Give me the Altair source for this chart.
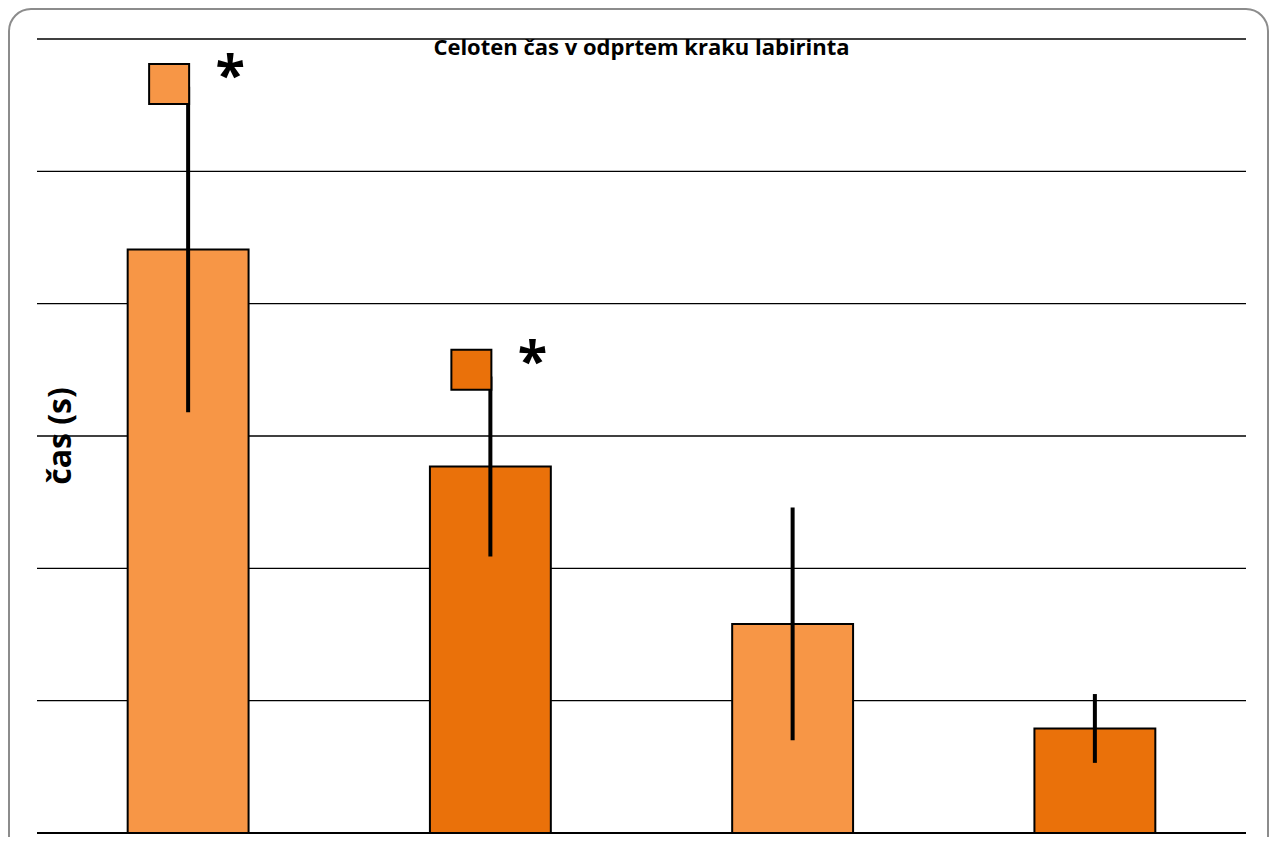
import altair as alt
import pandas as pd

groups = ["1", "2", "3", "4"]
means = [4.41, 2.77, 1.58, 0.79]
errors = [1.23, 0.68, 0.88, 0.26]
shades = ["light", "dark", "light", "dark"]
marker_groups = ["1", "2"]
marker_values = [5.66, 3.50]
marker_shades = ["light", "dark"]
grid_values = [1, 2, 3, 4, 5, 6]
title_text = "Celoten čas v odprtem kraku labirinta"
y_title = "čas (s)"

df = pd.DataFrame({"group": groups, "mean": means, "err": errors, "shade": shades})
df["lo"] = df["mean"] - df["err"]
df["hi"] = df["mean"] + df["err"]
mk = pd.DataFrame({"group": marker_groups, "value": marker_values,
                   "shade": marker_shades, "star": ["*"] * len(marker_groups)})

xenc = alt.X("group:N", axis=None,
             scale=alt.Scale(domain=groups, paddingInner=0.6, paddingOuter=0.3))
yscale = alt.Scale(domain=[0, 6], nice=False, zero=True)
cenc = alt.Color("shade:N", legend=None,
                 scale=alt.Scale(domain=["light", "dark"], range=["#F79646", "#EA710A"]))

border = alt.Chart(pd.DataFrame({"a": [0]})).mark_rect(
    fillOpacity=0, stroke="#8c8c8c", strokeWidth=2, cornerRadius=22
).encode(x=alt.value(-28), x2=alt.value(1231), y=alt.value(-30), y2=alt.value(840))

grid = alt.Chart(pd.DataFrame({"v": grid_values})).mark_rule(
    color="#000000", strokeWidth=1.3
).encode(y=alt.Y("v:Q", scale=yscale, axis=None))

baseline = alt.Chart(pd.DataFrame({"v": [0]})).mark_rule(
    color="#000000", strokeWidth=2
).encode(y=alt.Y("v:Q", scale=yscale, axis=None))

base = alt.Chart(df)
bars = base.mark_bar(stroke="black", strokeWidth=2).encode(
    x=xenc, y=alt.Y("mean:Q", scale=yscale, axis=None), color=cenc)
errbars = base.mark_rule(color="black", strokeWidth=4).encode(
    x=xenc, y=alt.Y("lo:Q", scale=yscale, axis=None), y2="hi:Q")

squares = alt.Chart(mk).mark_square(
    size=1600, opacity=1, stroke="black", strokeWidth=2, xOffset=-19
).encode(x=xenc, y=alt.Y("value:Q", scale=yscale, axis=None), color=cenc)

stars = alt.Chart(mk).mark_text(
    font="Open Sans", fontWeight="bold", fontSize=54, dx=42, dy=-6, baseline="middle",
    align="center", color="black"
).encode(x=xenc, y=alt.Y("value:Q", scale=yscale, axis=None), text="star:N")

title = alt.Chart(pd.DataFrame({"t": [title_text]})).mark_text(
    font="Open Sans", fontWeight="bold", fontSize=22, baseline="alphabetic",
    align="center", color="black"
).encode(x=alt.value(604.5), y=alt.value(16), text="t:N")

ytitle = alt.Chart(pd.DataFrame({"t": [y_title]})).mark_text(
    font="Open Sans", fontWeight="bold", fontSize=32, baseline="middle",
    align="center", angle=270, color="black"
).encode(x=alt.value(24), y=alt.value(397), text="t:N")

chart = alt.layer(border, grid, baseline, bars, errbars, squares, stars, title, ytitle).properties(
    width=1209, height=794,
    padding={"left": 29, "top": 31, "right": 23, "bottom": 4},
    autosize="none",
).configure_view(stroke=None)

chart.save("out.html", embed_options={"renderer": "svg", "actions": False})
